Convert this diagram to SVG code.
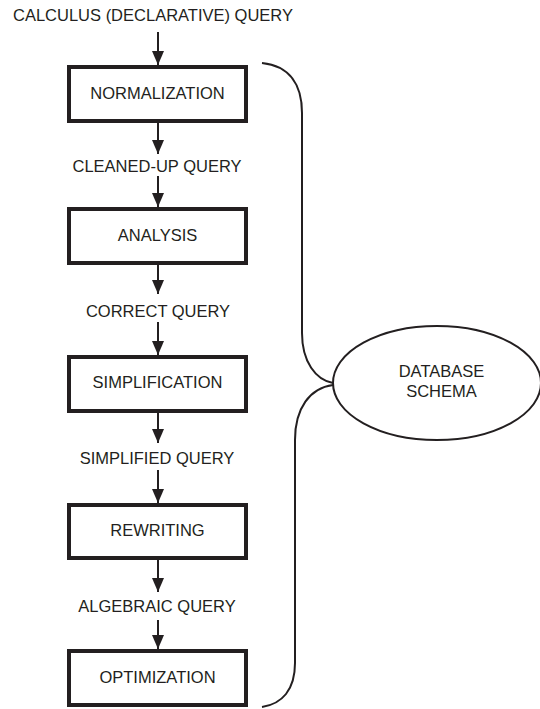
<svg xmlns="http://www.w3.org/2000/svg" width="540" height="709" viewBox="0 0 540 709">
  <style>
    .box { fill: #ffffff; stroke: #231f20; stroke-width: 4; }
    .lbl { font-family: "Liberation Sans", Arial, sans-serif; font-size: 16.5px; fill: #231f20; text-anchor: middle; }
    .flow { stroke: #231f20; stroke-width: 2; fill: none; marker-end: url(#head); }
    .curve { stroke: #231f20; stroke-width: 2; fill: none; }
  </style>
  <defs>
    <marker id="head" viewBox="0 0 14 12" refX="14" refY="6" markerWidth="14" markerHeight="12" markerUnits="userSpaceOnUse" orient="auto">
      <path d="M0,0 L14,6 L0,12 Z" fill="#231f20"/>
    </marker>
  </defs>
  <rect width="540" height="709" fill="#ffffff"/>

  <text class="lbl" x="153" y="21">CALCULUS (DECLARATIVE) QUERY</text>
  <text class="lbl" x="157" y="172">CLEANED-UP QUERY</text>
  <text class="lbl" x="158" y="317">CORRECT QUERY</text>
  <text class="lbl" x="157" y="464">SIMPLIFIED QUERY</text>
  <text class="lbl" x="157" y="612">ALGEBRAIC QUERY</text>

  <g id="normalization">
    <rect class="box" x="69" y="67" width="177" height="54"/>
    <text class="lbl" x="157.5" y="99">NORMALIZATION</text>
  </g>
  <g id="analysis">
    <rect class="box" x="69" y="209" width="177" height="54"/>
    <text class="lbl" x="157.5" y="241">ANALYSIS</text>
  </g>
  <g id="simplification">
    <rect class="box" x="69" y="357" width="177" height="54"/>
    <text class="lbl" x="157.5" y="388">SIMPLIFICATION</text>
  </g>
  <g id="rewriting">
    <rect class="box" x="69" y="505" width="177" height="53"/>
    <text class="lbl" x="157.5" y="536">REWRITING</text>
  </g>
  <g id="optimization">
    <rect class="box" x="69" y="651" width="177" height="54"/>
    <text class="lbl" x="157.5" y="683">OPTIMIZATION</text>
  </g>
  <g id="schema">
    <ellipse cx="437" cy="383" rx="104" ry="57" fill="#ffffff" stroke="#231f20" stroke-width="2"/>
    <text class="lbl" x="441.5" y="377">DATABASE</text>
    <text class="lbl" x="441.5" y="397">SCHEMA</text>
  </g>

  <g id="connectors">
    <line class="flow" x1="158" y1="32" x2="158" y2="65"/>
    <line class="flow" x1="158" y1="123" x2="158" y2="154"/>
    <line class="flow" x1="158" y1="176" x2="158" y2="207"/>
    <line class="flow" x1="158" y1="265" x2="158" y2="294"/>
    <line class="flow" x1="158" y1="322" x2="158" y2="355"/>
    <line class="flow" x1="158" y1="413" x2="158" y2="443"/>
    <line class="flow" x1="158" y1="470" x2="158" y2="503"/>
    <line class="flow" x1="158" y1="560" x2="158" y2="592"/>
    <line class="flow" x1="158" y1="620" x2="158" y2="649"/>
    <!-- brace joining the stages to the schema -->
    <path class="curve" d="M262,63 C290,66 302,85 302,113 L302,333 C302,362 316,380 333,383"/>
    <path class="curve" d="M333,385 C310,388 295,408 295,440 L295,663 C295,690 282,704 262,707"/>
  </g>
</svg>
